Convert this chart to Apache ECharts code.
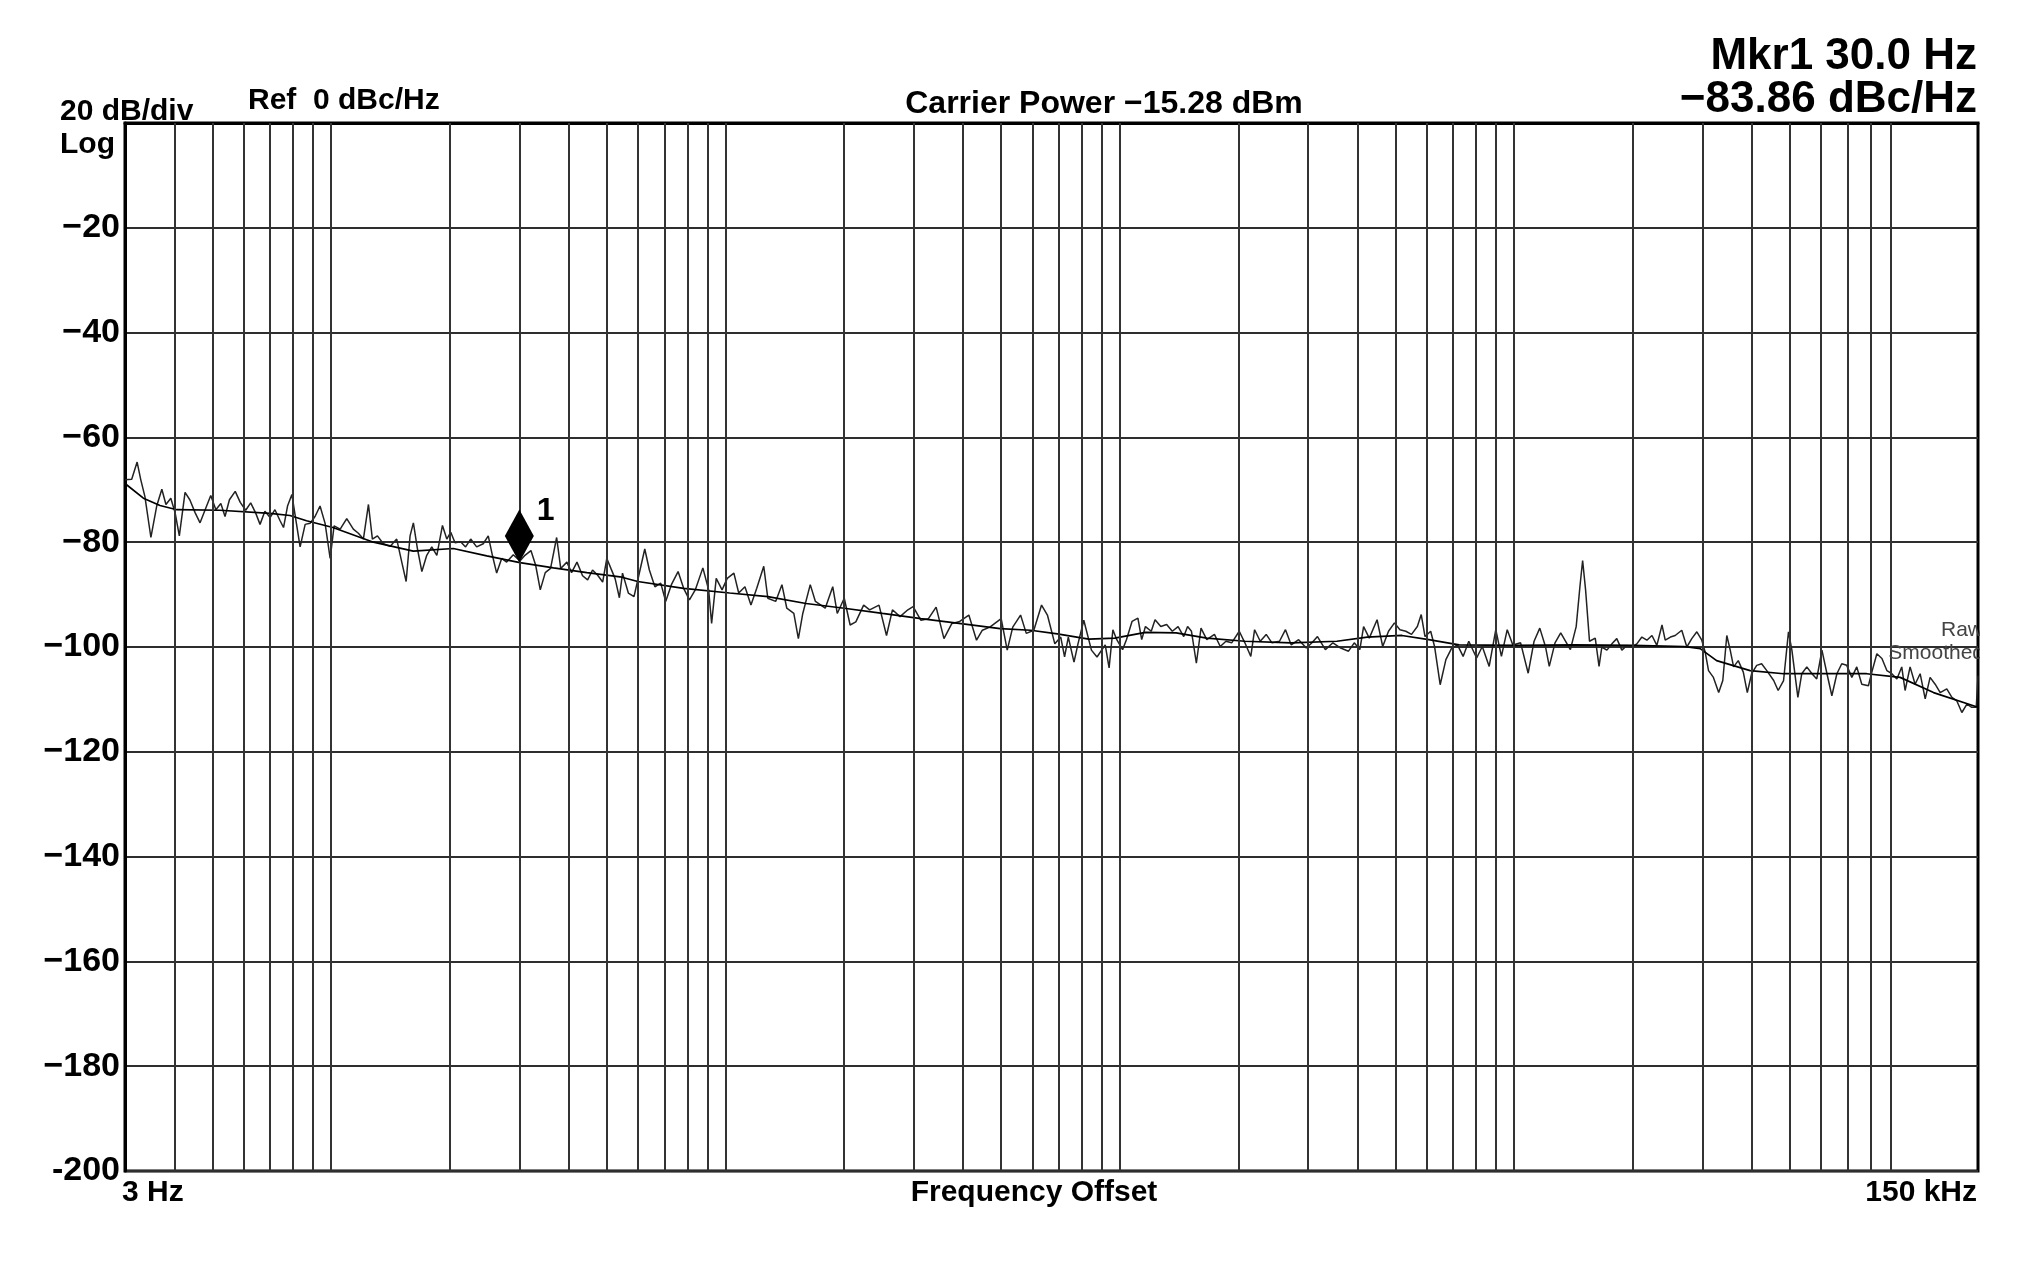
<!DOCTYPE html>
<html>
<head>
<meta charset="utf-8">
<script src="https://cdn.jsdelivr.net/npm/echarts@6/dist/echarts.min.js"></script>
<style>
html,body{margin:0;padding:0;background:#fff;}
#c{width:2044px;height:1264px;}
</style>
</head>
<body>
<div id="c"></div>
<script>
// Frequency offsets (Hz) of the vertical grid lines
const gridFreqs = [4,5,6,7,8,9,
  10,20,30,40,50,60,70,80,90,
  100,200,300,400,500,600,700,800,900,
  1000,2000,3000,4000,5000,6000,7000,8000,9000,
  10000,20000,30000,40000,50000,60000,70000,80000,90000];

// y tick values (dBc/Hz)
const yTicks = [0,-20,-40,-60,-80,-100,-120,-140,-160,-180,-200];

// Raw trace: [frequency offset Hz, dBc/Hz]
const rawTrace = [
[3.00,-68.1],[3.12,-68.0],[3.22,-64.7],[3.29,-68.1],[3.37,-71.3],[3.49,-79.1],[3.61,-73.1],[3.72,-69.9],[3.81,-72.8],[3.92,-71.6],
[4.02,-74.4],[4.12,-78.8],[4.26,-70.5],[4.38,-71.9],[4.52,-74.4],[4.65,-76.3],[4.79,-73.8],[4.95,-71.1],[5.10,-73.8],[5.25,-72.6],
[5.38,-75.1],[5.52,-71.9],[5.71,-70.3],[5.88,-72.4],[6.07,-73.9],[6.25,-72.5],[6.44,-74.5],[6.60,-76.6],[6.79,-74.1],[7.00,-75.3],
[7.20,-73.8],[7.42,-75.9],[7.57,-77.2],[7.75,-73.1],[7.95,-70.9],[8.13,-75.6],[8.34,-80.9],[8.59,-76.6],[8.84,-76.4],[9.10,-75.1],
[9.37,-73.1],[9.65,-76.4],[9.94,-83.1],[10.17,-76.9],[10.54,-77.5],[10.95,-75.5],[11.38,-77.5],[11.72,-78.3],[12.07,-79.4],[12.43,-72.8],
[12.72,-79.4],[13.10,-78.8],[13.56,-80.3],[14.10,-80.8],[14.66,-79.4],[15.10,-83.8],[15.49,-87.5],[15.85,-78.8],[16.16,-76.3],[16.55,-81.3],
[16.98,-85.6],[17.47,-82.5],[17.99,-80.9],[18.53,-82.5],[19.15,-76.8],[19.64,-79.4],[20.10,-78.1],[20.61,-80.1],[21.29,-79.9],[21.92,-80.9],
[22.58,-79.4],[23.38,-80.9],[24.30,-80.3],[25.02,-78.8],[25.63,-82.5],[26.28,-85.9],[27.06,-83.1],[27.86,-83.8],[28.96,-82.4],[30.1,-83.6],
[31.0,-82.5],[32.1,-81.6],[33.0,-84.4],[33.9,-89.1],[34.9,-85.8],[36.0,-85.0],[37.3,-79.1],[38.2,-85.0],[39.6,-83.8],[40.7,-85.8],
[42.0,-83.8],[43.4,-86.4],[44.7,-87.2],[46.0,-85.3],[47.4,-86.3],[48.8,-87.6],[50.0,-83.1],[51.2,-85.0],[52.5,-87.0],[53.8,-90.6],
[54.8,-85.9],[56.7,-89.7],[58.6,-90.4],[60.2,-86.5],[62.4,-81.3],[64.1,-85.3],[66.2,-88.5],[68.5,-87.8],[70.5,-91.3],[72.9,-88.1],
[75.8,-85.6],[78.3,-88.8],[81.0,-91.0],[83.8,-89.1],[87.6,-84.9],[90.6,-89.1],[92.2,-95.5],[94.7,-86.9],[98.0,-89.1],[101,-86.9],
[105,-85.9],[108,-89.7],[112,-88.5],[116,-92.0],[120,-88.8],[125,-84.6],[128,-90.7],[134,-91.3],[139,-88.1],[143,-92.6],
[149,-93.6],[153,-98.4],[157,-93.6],[164,-88.1],[169,-91.3],[179,-92.6],[187,-88.5],[192,-93.6],[200,-90.7],[207,-95.8],
[214,-95.2],[224,-92.0],[232,-92.9],[245,-92.0],[256,-97.8],[265,-92.9],[277,-94.2],[290,-92.9],[299,-92.3],[313,-94.9],
[327,-94.6],[342,-92.4],[358,-98.4],[375,-95.5],[391,-95.2],[414,-93.9],[433,-98.7],[448,-96.8],[468,-96.2],[500,-94.6],
[518,-100.6],[535,-96.2],[560,-93.9],[579,-97.4],[605,-96.8],[633,-92.0],[655,-93.9],[684,-99.4],[708,-98.1],[724,-101.9],
[740,-98.1],[765,-102.9],[783,-99.4],[810,-94.9],[847,-100.6],[875,-101.9],[918,-99.6],[939,-104.0],[960,-96.7],[982,-98.6],
[1016,-100.5],[1039,-98.6],[1074,-95.1],[1111,-94.5],[1136,-98.6],[1161,-96.1],[1201,-97.0],[1228,-94.8],[1270,-96.1],[1314,-95.7],
[1358,-97.0],[1405,-96.1],[1452,-98.0],[1485,-96.1],[1519,-97.0],[1563,-103.1],[1606,-96.4],[1661,-98.6],[1737,-97.6],[1797,-99.9],
[1858,-98.9],[1921,-99.2],[2008,-97.0],[2075,-99.2],[2148,-101.8],[2196,-96.7],[2270,-98.9],[2350,-97.6],[2430,-99.2],[2540,-98.9],
[2630,-96.7],[2720,-99.6],[2840,-98.6],[2970,-100.2],[3070,-99.2],[3170,-98.0],[3320,-100.5],[3470,-99.2],[3630,-100.2],[3800,-100.8],
[3930,-99.2],[4060,-100.5],[4150,-96.1],[4290,-98.3],[4490,-94.8],[4640,-99.9],[4800,-97.0],[4970,-95.4],[5130,-96.7],[5310,-97.0],
[5490,-97.6],[5680,-96.1],[5810,-93.8],[5940,-98.0],[6140,-97.0],[6280,-99.9],[6490,-107.2],[6710,-102.4],[6940,-100.2],[7180,-99.6],
[7420,-101.8],[7670,-98.9],[8030,-102.1],[8300,-99.9],[8640,-103.7],[8980,-96.7],[9280,-101.8],[9600,-96.7],[9920,-99.6],[10380,-99.2],
[10850,-105.0],[11230,-98.9],[11610,-96.4],[12000,-99.9],[12270,-103.7],[12690,-99.2],[13120,-97.3],[13880,-100.5],[14360,-96.1],[14680,-88.4],
[14910,-83.5],[15170,-89.1],[15520,-98.9],[16050,-98.3],[16410,-103.7],[16680,-100.0],[17180,-100.6],[17690,-99.4],[18200,-98.4],[18750,-100.6],
[19300,-99.7],[19900,-100.0],[20460,-99.4],[21070,-98.1],[21700,-98.7],[22350,-97.8],[23000,-99.7],[23700,-95.8],[24150,-98.7],[24900,-98.1],
[25600,-97.8],[26600,-96.8],[27400,-100.0],[28200,-98.4],[29050,-97.1],[29900,-98.7],[30500,-101.0],[31100,-104.5],[32000,-105.8],[33000,-108.7],
[33800,-106.4],[34600,-97.8],[35300,-100.6],[36000,-103.8],[37000,-102.6],[38100,-104.8],[39000,-108.7],[40000,-105.1],[41200,-103.5],[42400,-103.2],
[43700,-104.5],[45500,-106.4],[46700,-108.3],[48200,-106.4],[49600,-97.1],[50600,-100.6],[52400,-109.6],[53600,-105.1],[55200,-103.8],[56900,-105.1],
[58500,-106.1],[60300,-100.6],[62100,-105.1],[63900,-109.3],[65800,-105.1],[67700,-103.2],[69700,-103.5],[71800,-105.8],[73900,-103.8],[76100,-107.1],
[79100,-107.4],[80700,-104.8],[83100,-101.3],[85600,-102.2],[88100,-104.5],[90700,-105.1],[93400,-106.1],[96100,-103.8],[98000,-108.3],[100900,-103.8],
[103900,-107.1],[107000,-105.1],[110200,-109.9],[113400,-105.8],[116800,-107.1],[120300,-108.7],[125000,-108.0],[128800,-109.6],[132600,-110.3],[136500,-112.5],
[140600,-110.9],[144700,-111.5],[148500,-111.5],[150000,-105.5]
];

// Smoothed trace: [frequency offset Hz, dBc/Hz]
const smoothedTrace = [
[3.0,-68.8],[3.34,-71.6],[3.68,-73.0],[4.06,-73.8],[5.22,-73.9],[7.0,-74.5],[7.86,-74.9],[8.66,-75.9],[10.1,-77.2],[12.8,-80.0],
[16.15,-81.7],[20.4,-81.2],[24.8,-82.6],[30.1,-83.9],[36.6,-84.9],[44.5,-85.8],[54.0,-86.6],[59.9,-87.5],[78.3,-88.8],[102.4,-89.7],
[128,-90.4],[160,-91.7],[200,-92.6],[250,-93.6],[313,-94.6],[391,-95.5],[497,-96.5],[594,-96.8],[694,-97.5],[834,-98.5],
[971,-98.3],[1161,-97.2],[1389,-97.3],[1661,-98.3],[2075,-98.9],[2720,-99.2],[3550,-98.9],[4240,-98.1],[5190,-97.8],[6070,-98.6],
[7250,-99.6],[10150,-99.7],[14190,-99.6],[20060,-99.7],[26900,-99.9],[29630,-100.3],[32600,-102.6],[39650,-104.5],[48200,-105.1],[64500,-105.1],
[78300,-105.1],[95200,-105.8],[115700,-108.7],[150000,-111.5]
];

// Marker 1
const marker = { freq: 30.0, level: -83.86, label: '1' };

// Annotation texts
const texts = {
  scale: '20 dB/div',
  scaleType: 'Log',
  ref: 'Ref  0 dBc/Hz',
  carrier: 'Carrier Power \u221215.28 dBm',
  mkrFreq: 'Mkr1 30.0 Hz',
  mkrLevel: '\u221283.86 dBc/Hz',
  xStart: '3 Hz',
  xName: 'Frequency Offset',
  xStop: '150 kHz',
  raw: 'Raw',
  smoothed: 'Smoothed'
};

const FONT = '"Liberation Sans", Arial, sans-serif';

function txt(text, x, y, align, size, weight, color) {
  return {
    type: 'text', z: 100, silent: true,
    style: {
      text: text, x: x, y: y,
      align: align, verticalAlign: 'middle',
      textAlign: align, textVerticalAlign: 'middle',
      fill: color || '#000',
      font: (weight || 'bold') + ' ' + size + 'px ' + FONT
    }
  };
}

const chart = echarts.init(document.getElementById('c'), null, {renderer: 'canvas'});
chart.setOption({
  backgroundColor: '#fff',
  animation: false,
  grid: {
    left: 125, right: 66, top: 123, bottom: 93,
    show: true, borderColor: '#000', borderWidth: 3,
    containLabel: false, outerBoundsMode: 'none'
  },
  xAxis: {
    type: 'log', logBase: 10, min: 3, max: 150000,
    axisLine: { show: true, lineStyle: { color: '#000', width: 3 } },
    axisTick: { show: false },
    axisLabel: { show: false },
    splitLine: { show: false },
    minorTick: { show: false },
    minorSplitLine: { show: false }
  },
  yAxis: {
    type: 'value', min: -200, max: 0, interval: 20,
    axisLine: { show: true, lineStyle: { color: '#000', width: 3 } },
    axisTick: { show: false },
    axisLabel: {
      margin: 5,
      color: '#000', fontSize: 34, fontWeight: 'bold', fontFamily: FONT,
      formatter: function (v) {
        if (v === 0) return '';
        if (v === -200) return '-200';
        return '\u2212' + Math.abs(v);
      }
    },
    splitLine: { show: true, lineStyle: { color: '#2e2e2e', width: 2 } }
  },
  series: [
    {
      name: 'grid', type: 'line', data: [], z: 1, silent: true,
      markLine: {
        silent: true, symbol: ['none', 'none'], animation: false,
        label: { show: false },
        lineStyle: { color: '#333', width: 2, type: 'solid' },
        emphasis: { disabled: true },
        data: gridFreqs.map(function (f) { return { xAxis: f }; })
      }
    },
    {
      name: 'Raw', type: 'line', data: rawTrace, z: 3,
      showSymbol: false, symbol: 'none', smooth: false,
      lineStyle: { color: '#222', width: 1.5 }
    },
    {
      name: 'Smoothed', type: 'line', data: smoothedTrace, z: 4,
      showSymbol: false, symbol: 'none', smooth: false,
      lineStyle: { color: '#000', width: 1.7 },
      markPoint: {
        symbol: 'diamond', symbolSize: [29, 53], symbolOffset: [0, '-50%'],
        itemStyle: { color: '#000' },
        label: {
          show: true, formatter: marker.label, position: [32, -14],
          color: '#000', fontSize: 32, fontWeight: 'bold', fontFamily: FONT
        },
        data: [{ coord: [marker.freq, marker.level] }]
      }
    }
  ],
  graphic: [
    txt(texts.scale, 60, 112, 'left', 30),
    txt(texts.scaleType, 60, 145, 'left', 30),
    txt(texts.ref, 248, 101, 'left', 30),
    txt(texts.carrier, 1104, 104, 'center', 32),
    txt(texts.mkrFreq, 1977, 57, 'right', 44),
    txt(texts.mkrLevel, 1977, 100, 'right', 44),
    txt(texts.xStart, 122, 1193, 'left', 30),
    txt(texts.xName, 1034, 1193, 'center', 30),
    txt(texts.xStop, 1977, 1193, 'right', 30),
    txt(texts.raw, 1983, 630, 'right', 21, 'normal', '#444'),
    txt(texts.smoothed, 1984, 653, 'right', 21, 'normal', '#444'),
    { type: 'rect', z: 101, silent: true,
      shape: { x: 1980, y: 610, width: 64, height: 60 },
      style: { fill: '#fff' } }
  ]
});
</script>
</body>
</html>
